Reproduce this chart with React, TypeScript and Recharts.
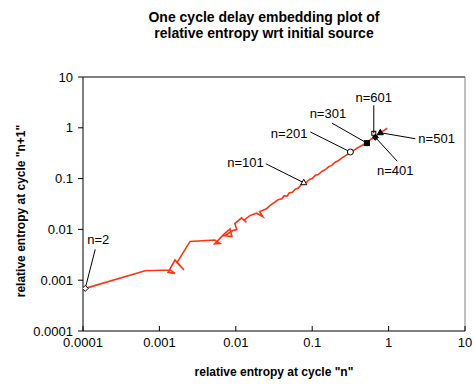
import { ReferenceLine, Scatter, ScatterChart, XAxis, YAxis } from "recharts";

const tickValues = [0.0001, 0.001, 0.01, 0.1, 1, 10];
const tickLabels = ["0.0001", "0.001", "0.01", "0.1", "1", "10"];

// entropy at cycle n (x) against cycle n+1 (y)
const traceX = [
  0.000107, 0.00065, 0.00138, 0.0016, 0.0013, 0.0016, 0.0021, 0.0017, 0.00252, 0.0053,
  0.0062, 0.0053, 0.0069, 0.0084, 0.0089, 0.0072, 0.0091, 0.0103, 0.0097, 0.0119,
  0.0138, 0.0128, 0.0153, 0.0187, 0.0226, 0.0205, 0.0252, 0.0279, 0.0358, 0.04,
  0.043, 0.047, 0.05, 0.055, 0.06, 0.066, 0.071, 0.0775, 0.084, 0.092,
  0.1, 0.11, 0.12, 0.135, 0.15, 0.165, 0.18, 0.2, 0.22, 0.245,
  0.27, 0.3, 0.316, 0.35, 0.39, 0.44, 0.52, 0.58, 0.67, 0.72,
  0.78, 0.86, 0.96,
];
const traceY = [
  0.00069, 0.00154, 0.00159, 0.00136, 0.00143, 0.0025, 0.00159, 0.00221, 0.0058, 0.0062,
  0.0053, 0.0052, 0.0079, 0.0102, 0.0072, 0.0075, 0.0095, 0.0099, 0.013, 0.0169,
  0.0138, 0.0152, 0.0187, 0.0208, 0.0179, 0.0224, 0.0254, 0.0294, 0.0382, 0.04,
  0.046, 0.045, 0.052, 0.054, 0.062, 0.065, 0.075, 0.083, 0.084, 0.096,
  0.1, 0.116, 0.12, 0.14, 0.152, 0.172, 0.182, 0.21, 0.225, 0.255,
  0.28, 0.31, 0.334, 0.36, 0.4, 0.445, 0.5, 0.59, 0.65, 0.74,
  0.8, 0.88, 0.98,
];

const markerN = [2, 101, 201, 301, 401, 501, 601];
const markerX = [0.000107, 0.0775, 0.316, 0.52, 0.67, 0.78, 0.64];
const markerY = [0.00069, 0.083, 0.334, 0.5, 0.65, 0.8, 0.78];

const trace = traceX.map((x, i) => ({ x, y: traceY[i] }));
const markers = markerN.map((n, i) => ({ n, x: markerX[i], y: markerY[i] }));

const RED = "#ff3311";
const FONT = "'Liberation Sans', Arial, sans-serif";

// annotation layout: leader end (lx, ly) and text point (tx, ty), offsets in px from the marker
const LAYOUT: Record<number, { lx: number; ly: number; tx: number; ty: number; anchor: string; mark: string }> = {
  2: { lx: 10, ly: -39, tx: 13, ty: -49, anchor: "middle", mark: "diamondOpen" },
  101: { lx: -38, ly: -19, tx: -40, ty: -20, anchor: "end", mark: "triangleOpen" },
  201: { lx: -40, ly: -20, tx: -43, ty: -18, anchor: "end", mark: "circleOpen" },
  301: { lx: -35, ly: -20, tx: -39, ty: -30, anchor: "middle", mark: "squareFilled" },
  401: { lx: 22, ly: 24, tx: 20, ty: 33, anchor: "middle", mark: "diamondFilled" },
  501: { lx: 35, ly: 6, tx: 38, ty: 6, anchor: "start", mark: "triangleFilled" },
  601: { lx: 0, ly: -28, tx: 0, ty: -36, anchor: "middle", mark: "squareOpen" },
};

function drawMark(kind: string, cx: number, cy: number) {
  const s = 3;
  switch (kind) {
    case "diamondOpen":
    case "diamondFilled":
      return (
        <polygon
          points={`${cx},${cy - s} ${cx + s},${cy} ${cx},${cy + s} ${cx - s},${cy}`}
          fill={kind === "diamondOpen" ? "#fff" : "#000"}
          stroke="#000"
        />
      );
    case "triangleOpen":
    case "triangleFilled":
      return (
        <polygon
          points={`${cx},${cy - s - 0.5} ${cx + s},${cy + s - 1} ${cx - s},${cy + s - 1}`}
          fill={kind === "triangleOpen" ? "#fff" : "#000"}
          stroke="#000"
        />
      );
    case "circleOpen":
      return <circle cx={cx} cy={cy} r={s} fill="#fff" stroke="#000" />;
    case "squareOpen":
      return <rect x={cx - 2} y={cy - 2} width={4} height={4} fill="none" stroke="#000" />;
    default:
      return <rect x={cx - s + 0.5} y={cy - s + 0.5} width={2 * s - 1} height={2 * s - 1} fill="#000" stroke="#000" />;
  }
}

function Annotation(props: any) {
  const { cx, cy, payload } = props;
  const l = LAYOUT[payload.n];
  return (
    <g>
      <line x1={cx} y1={cy} x2={cx + l.lx} y2={cy + l.ly} stroke="#000" strokeWidth={1} />
      {drawMark(l.mark, cx, cy)}
      <text
        x={cx + l.tx}
        y={cy + l.ty}
        textAnchor={l.anchor}
        dominantBaseline="central"
        fontSize={13}
        fontFamily={FONT}
        fill="#000"
      >
        {"n=" + payload.n}
      </text>
    </g>
  );
}

export default function App() {
  const tickStyle = { fill: "#000", fontSize: 13, fontFamily: FONT };
  return (
    <div style={{ position: "absolute", left: 0, top: 0, width: 474, height: 384, background: "#fff" }}>
      <div
        style={{
          position: "absolute",
          left: 27,
          top: 9,
          width: 474,
          textAlign: "center",
          fontFamily: FONT,
          fontWeight: "bold",
          fontSize: 14,
          lineHeight: "16px",
        }}
      >
        One cycle delay embedding plot of
        <br />
        relative entropy wrt initial source
      </div>
      <ScatterChart width={474} height={384} margin={{ top: 77, right: 9, bottom: 0, left: 0 }}>
        <XAxis
          type="number"
          dataKey="x"
          scale="log"
          domain={[0.0001, 10]}
          ticks={tickValues}
          interval={0}
          allowDataOverflow
          height={53}
          tickSize={-5}
          tickMargin={12}
          tick={tickStyle}
          tickFormatter={(v: number, i: number) => tickLabels[i]}
          axisLine={{ stroke: "#000" }}
          tickLine={{ stroke: "#000" }}
          label={() => (
            <text x={274} y={376} textAnchor="middle" fontSize={12} fontWeight="bold" fontFamily={FONT} fill="#000">
              relative entropy at cycle "n"
            </text>
          )}
        />
        <YAxis
          type="number"
          dataKey="y"
          scale="log"
          domain={[0.0001, 10]}
          ticks={tickValues}
          interval={0}
          allowDataOverflow
          width={83}
          tickSize={5}
          tickMargin={5}
          tick={tickStyle}
          tickFormatter={(v: number, i: number) => tickLabels[i]}
          axisLine={{ stroke: "#000" }}
          tickLine={{ stroke: "#000" }}
          label={() => (
            <text
              x={25}
              y={211}
              transform="rotate(-90 25 211)"
              textAnchor="middle"
              fontSize={12}
              fontWeight="bold"
              fontFamily={FONT}
              fill="#000"
            >
              relative entropy at cycle "n+1"
            </text>
          )}
        />
        <ReferenceLine y={10} stroke="#000" />
        <ReferenceLine x={10} stroke="#808080" />
        <Scatter
          data={trace}
          line={{ stroke: RED, strokeWidth: 1.6 }}
          shape={() => <g />}
          isAnimationActive={false}
        />
        <Scatter data={markers} shape={(p: any) => <Annotation {...p} />} isAnimationActive={false} />
      </ScatterChart>
    </div>
  );
}
